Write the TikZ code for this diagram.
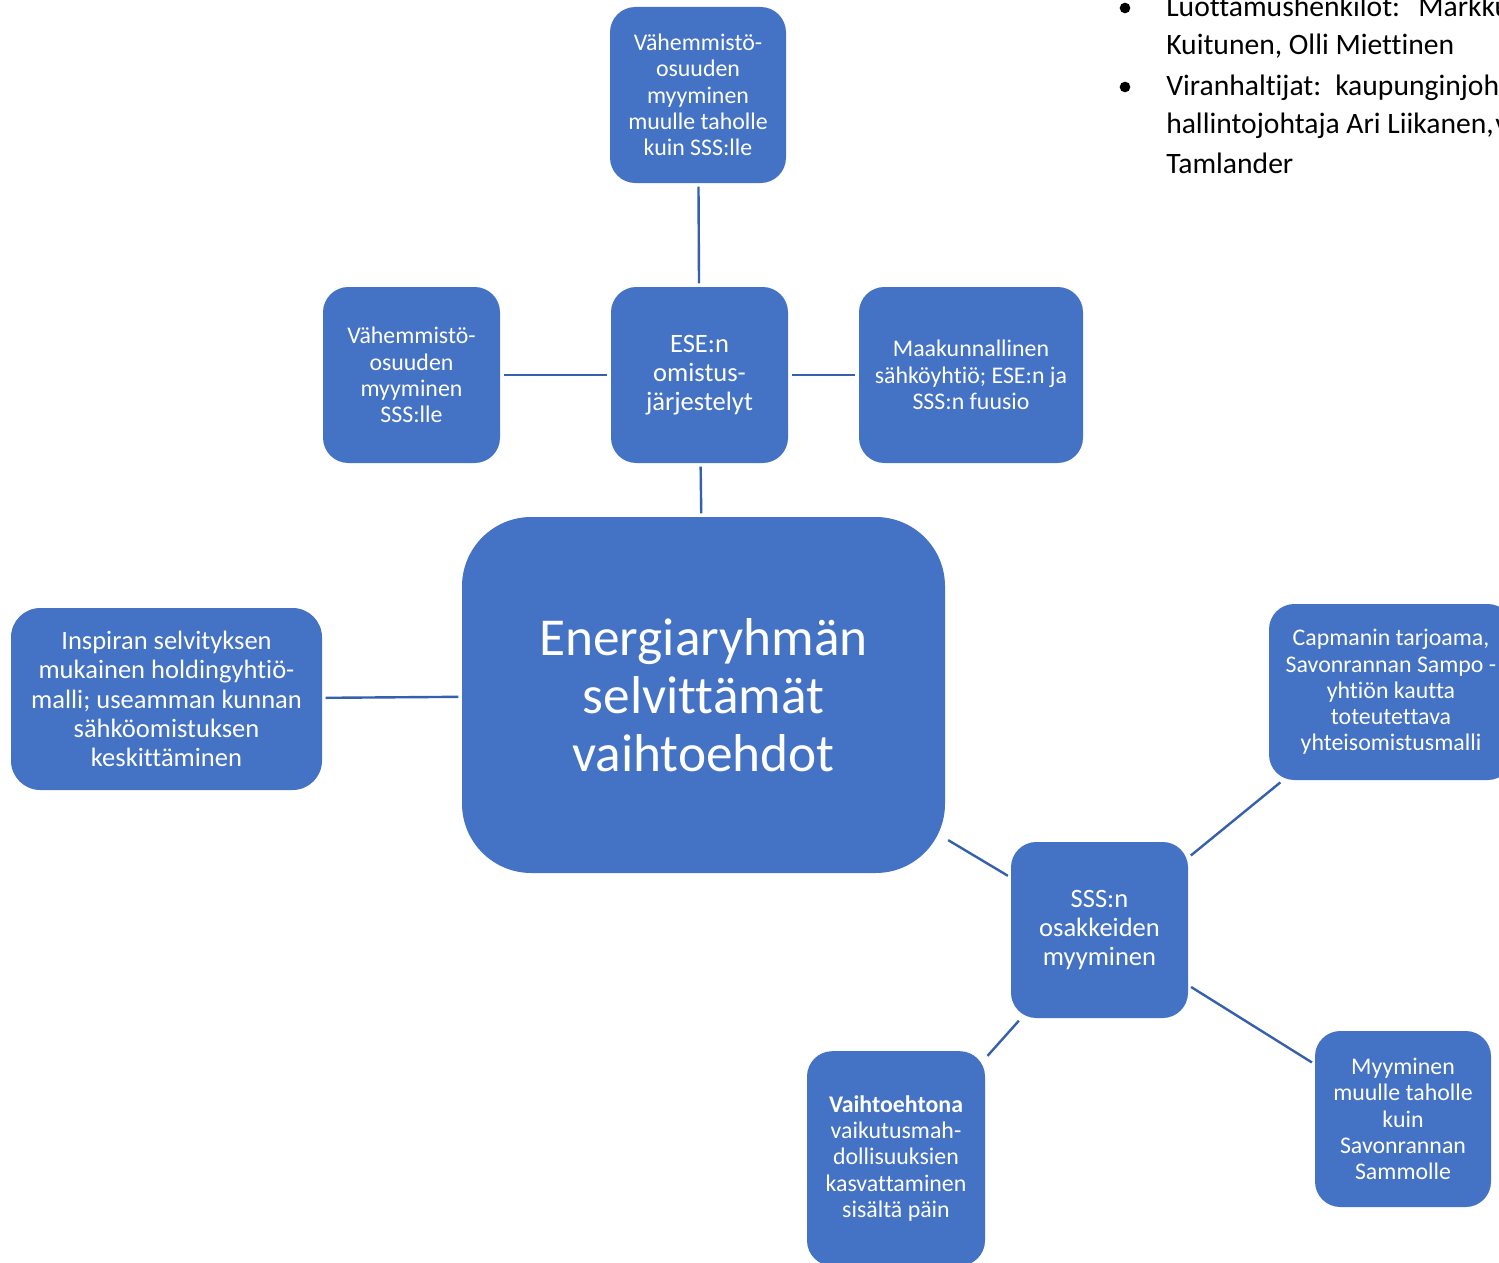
\documentclass[tikz,border=0pt]{standalone}
\usepackage{fontspec}
\setmainfont{Carlito}[Ligatures={NoCommon}]
\definecolor{boxblue}{HTML}{4472C4}
\definecolor{lineblue}{HTML}{3560AC}
\tikzset{
  box/.style={rounded corners=19pt, fill=boxblue, draw=none, text=white, align=center, inner sep=0pt},
  smalltext/.style={font=\fontsize{17.9}{19.7}\selectfont},
  midtext/.style={font=\fontsize{19.9}{22}\selectfont},
  conn/.style={draw=lineblue, line width=1.8pt, shorten >=2.5pt, shorten <=2.5pt},
  doc/.style={anchor=base west, inner sep=0pt, font=\fontsize{22.2}{29}\selectfont}
}
\begin{document}
\begin{tikzpicture}[x=0.75pt, y=-0.75pt]
\clip (0,0) rectangle (1499,1263);
\fill[white] (0,0) rectangle (1499,1263);

% nodes
\node[box, smalltext, minimum width=132pt, minimum height=132pt] (top) at (698,95)
  {Vähemmistö-\\osuuden\\myyminen\\muulle taholle\\kuin SSS:lle};
\node[box, midtext, minimum width=132.75pt, minimum height=132pt] (ese) at (699.5,375)
  {ESE:n\\omistus-\\järjestelyt};
\node[box, smalltext, minimum width=132.75pt, minimum height=132pt] (vsss) at (411.5,375)
  {Vähemmistö-\\osuuden\\myyminen\\SSS:lle};
\node[box, smalltext, minimum width=168pt, minimum height=132pt] (maak) at (971,375)
  {Maakunnallinen\\sähköyhtiö; ESE:n ja\\SSS:n fuusio};
\node[box, rounded corners=52pt, font=\fontsize{40}{43.5}\selectfont, minimum width=362.25pt, minimum height=267pt] (center) at (703.5,695)
  {Energiaryhmän\\selvittämät\\vaihtoehdot};
\node[box, midtext, rounded corners=22pt, minimum width=233.25pt, minimum height=136.5pt] (insp) at (166.5,699)
  {Inspiran selvityksen\\mukainen holdingyhtiö-\\malli; useamman kunnan\\sähköomistuksen\\keskittäminen};
\node[box, smalltext, minimum width=183pt, minimum height=132pt] (cap) at (1391,692)
  {Capmanin tarjoama,\\Savonrannan Sampo -\\yhtiön kautta\\toteutettava\\yhteisomistusmalli};
\node[box, midtext, minimum width=132.75pt, minimum height=132pt] (sss) at (1099.5,930)
  {SSS:n\\osakkeiden\\myyminen};
\node[box, smalltext, minimum width=132pt, minimum height=132pt] (myy) at (1403,1119)
  {Myyminen\\muulle taholle\\kuin\\Savonrannan\\Sammolle};
\node[box, smalltext, minimum width=133.5pt, minimum height=161pt] (vai) at (896,1158.5)
  {\textbf{Vaihtoehtona}\\vaikutusmah-\\dollisuuksien\\kasvattaminen\\sisältä päin};

% connectors
\draw[conn] (top) -- (ese);
\draw[conn] (ese) -- (vsss);
\draw[conn] (ese) -- (maak);
\draw[conn] (ese) -- (center);
\draw[conn] (insp) -- (center);
\draw[conn] (center) -- (sss);
\draw[conn] (sss) -- (cap);
\draw[conn] (sss) -- (myy);
\draw[conn] (sss) -- (vai);

% document text (top right)
\fill (1125,8) circle (4pt);
\fill (1125,87) circle (4pt);
\node[doc] (l1a) at (1166,17) {Luottamushenkilöt:};
\node[doc] (l1b) at (1418,17) {Markku};
\node[doc] (l2) at (1166,55) {Kuitunen, Olli Miettinen};
\node[doc] (l3a) at (1166,95) {Viranhaltijat:};
\node[doc] (l3b) at (1335,95) {kaupunginjohtaja};
\node[doc] (l4a) at (1166,133) {hallintojohtaja Ari Liikanen,};
\node[doc] (l4b) at (1495,133) {v};
\node[doc] (l5) at (1166,173) {Tamlander};
\end{tikzpicture}
\end{document}
